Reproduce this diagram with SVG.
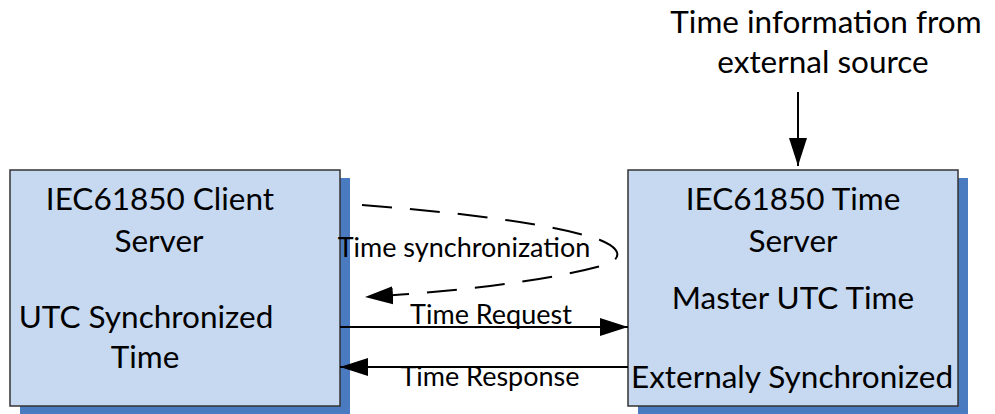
<svg xmlns="http://www.w3.org/2000/svg" width="995" height="414" viewBox="0 0 995 414">
<style>
.shadow{fill:#4A7BC1;stroke:none}
.box{fill:#C6D9F1;stroke:#333333;stroke-width:1.5}
.t{font-family:Lato,"Liberation Sans",sans-serif;font-size:31.5px;fill:#000;text-anchor:middle}
.s{font-family:Lato,"Liberation Sans",sans-serif;font-size:27px;fill:#000;text-anchor:middle}
.ln{fill:none;stroke:#000;stroke-width:2}
</style>
<defs>
<marker id="ah" markerWidth="28" markerHeight="20" refX="28" refY="10" orient="auto" markerUnits="userSpaceOnUse">
<path d="M0,1 L28,10 L0,19 Z" fill="#000"/>
</marker>
</defs>
<rect width="995" height="414" fill="#fff"/>
<g id="client">
<rect class="shadow" x="20" y="178" width="330" height="236"/>
<rect class="box" x="10" y="170" width="330" height="236"/>
<text class="t" x="160" y="210">IEC61850 Client</text>
<text class="t" x="159" y="252">Server</text>
<text class="t" x="146" y="328">UTC Synchronized</text>
<text class="t" x="145" y="368">Time</text>
</g>
<g id="timeserver">
<rect class="shadow" x="638" y="178" width="330" height="236"/>
<rect class="box" x="628" y="170" width="330" height="236"/>
<text class="t" x="793" y="210">IEC61850 Time</text>
<text class="t" x="793" y="252">Server</text>
<text class="t" x="793" y="309">Master UTC Time</text>
<text class="t" x="792" y="388">Externaly Synchronized</text>
</g>
<g id="external">
<text class="t" x="826" y="33">Time information from</text>
<text class="t" x="823" y="73">external source</text>
</g>
<g id="connectors">
<line class="ln" x1="798" y1="92" x2="798" y2="166" marker-end="url(#ah)"/>
<line class="ln" x1="340" y1="327" x2="628" y2="327" marker-end="url(#ah)"/>
<line class="ln" x1="628" y1="367" x2="340" y2="367" marker-end="url(#ah)"/>
<path class="ln" d="M362,205 C480,214 560,226 600,240 C625,250 622,262 597,267 C540,282 450,292 365,297" stroke-dasharray="30,18" marker-end="url(#ah)"/>
<text class="s" x="464" y="257">Time synchronization</text>
<text class="s" x="491" y="324">Time Request</text>
<text class="s" x="490" y="386">Time Response</text>
</g>
</svg>
